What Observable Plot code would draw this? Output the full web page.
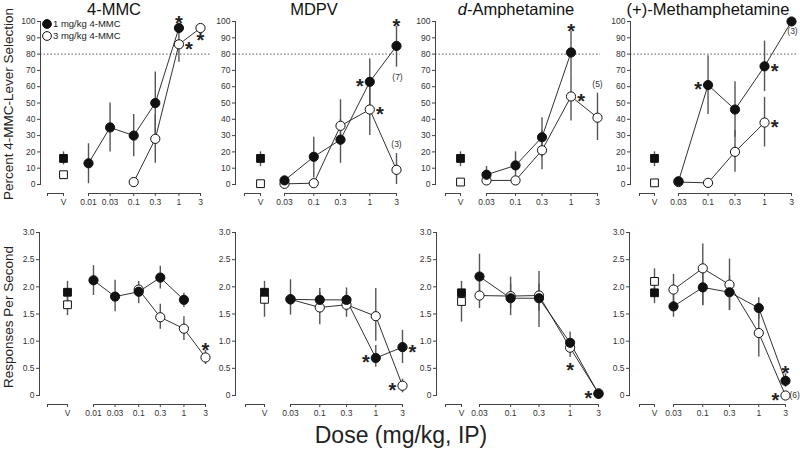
<!DOCTYPE html>
<html><head><meta charset="utf-8">
<script src="https://cdn.jsdelivr.net/npm/d3@7"></script>
<script src="https://cdn.jsdelivr.net/npm/@observablehq/plot@0.6"></script>
<style>
body{margin:0;background:#fff;font-family:"Liberation Sans",Arial,sans-serif;color:#222}
#wrap{position:relative;width:800px;height:451px;overflow:hidden;background:#fff}
#wrap svg.panel{position:absolute;left:0;top:0}
.t{position:absolute;white-space:nowrap;line-height:1}
</style></head><body><div id="wrap"></div>
<script>
// ---------- data ----------
const drugs = ["4-MMC", "MDPV", "d-Amphetamine", "(+)-Methamphetamine"];
const seriesLabels = ["1 mg/kg 4-MMC", "3 mg/kg 4-MMC"];
const dosesMMC = [0.01, 0.03, 0.1, 0.3, 1, 3];
const dosesOther = [0.03, 0.1, 0.3, 1, 3];
const doseLabelsMMC = ["0.01", "0.03", "0.1", "0.3", "1", "3"];
const doseLabelsOther = ["0.03", "0.1", "0.3", "1", "3"];
const vehicleLabel = "V";
const pctTicks = [0, 10, 20, 30, 40, 50, 60, 70, 80, 90, 100];
const rateTicks = [0, 0.5, 1, 1.5, 2, 2.5, 3];
const rateTickLabels = ["0", "0.5", "1.0", "1.5", "2.0", "2.5", "3.0"];
const criterion = 80;
const yTitlePct = "Percent 4-MMC-Lever Selection";
const yTitleRate = "Responses Per Second";
const xTitle = "Dose (mg/kg, IP)";

// [mean, lower, upper] per dose (null = not tested)
const pctMMC1 = [[13, 0.5, 25], [35, 20, 50], [30, 17, 43], [50, 31, 69], [96], null];
const pctMMC3 = [null, null, [1.5], [28, 13, 43], [86, 75, 96], [96]];
const pctMDPV1 = [[2.5], [17, 4, 29], [27.5, 13, 40], [63, 47, 77], [85, 72, 97]];
const pctMDPV3 = [[0.4], [0.8], [36, 24, 52], [46, 30, 62], [9, 0, 19]];
const pctAMPH1 = [[6, 2, 11], [11.7, 5, 20], [29, 17, 41], [81, 68, 94], null];
const pctAMPH3 = [[2.5], [2.5], [21, 9, 33], [54, 39, 68], [41, 27, 56]];
const pctMETH1 = [[2], [61, 43, 79], [46, 29, 63], [72.5, 57, 88], [100]];
const pctMETH3 = [[1.5], [1], [20, 7.5, 33], [38, 23, 53.5], null];
const pctVeh1 = [[16, 12, 20], [16, 11, 20], [16, 11, 20], [16, 11, 20]];
const pctVeh3 = [[6, 4, 8], [0.5], [1.5], [1]];

const rateMMC1 = [[2.12, 1.84, 2.39], [1.82, 1.54, 2.12], [1.91, 1.69, 2.10], [2.17, 1.96, 2.38], [1.76, 1.62, 1.88], null];
const rateMMC3 = [null, null, [1.95], [1.44, 1.22, 1.68], [1.23, 1.01, 1.45], [0.70, 0.57, 0.83]];
const rateMDPV1 = [[1.77, 1.48, 2.13], [1.76, 1.55, 1.97], [1.76, 1.55, 1.98], [0.69, 0.52, 0.92], [0.89, 0.59, 1.20]];
const rateMDPV3 = [[1.77], [1.62, 1.30, 1.90], [1.67, 1.44, 1.90], [1.46, 1.00, 1.97], [0.18, 0.05, 0.30]];
const rateAMPH1 = [[2.19, 1.90, 2.60], [1.79, 1.47, 2.18], [1.79, 1.55, 2.05], [0.97, 0.80, 1.17], [0.03]];
const rateAMPH3 = [[1.84, 1.60, 2.05], [1.83, 1.60, 2.05], [1.84, 1.25, 2.28], [0.88, 0.70, 1.00], [0.04]];
const rateMETH1 = [[1.64, 1.44, 1.85], [1.99, 1.65, 2.30], [1.90, 1.56, 2.20], [1.61, 1.40, 1.80], [0.27, 0.15, 0.40]];
const rateMETH3 = [[1.95, 1.70, 2.23], [2.34, 1.66, 2.79], [2.04, 1.57, 2.51], [1.15, 0.71, 1.60], [0.0]];
const rateVeh1 = [[1.90, 1.70, 2.10], [1.90, 1.70, 2.10], [1.89, 1.70, 2.10], [1.89, 1.69, 2.00]];
const rateVeh3 = [[1.67, 1.47, 1.87], [1.77, 1.44, 1.95], [1.73, 1.35, 1.90], [2.10, 1.95, 2.33]];

// significance markers: [panel, series, dose, side]
const sigPct = [[0,0,1,"above"],[0,1,1,"right"],[0,1,3,"below"],
  [1,0,1,"left"],[1,0,3,"above"],[1,1,1,"right"],
  [2,0,1,"above"],[2,1,1,"right"],
  [3,0,0.1,"left"],[3,0,1,"right"],[3,1,1,"right"]];
const sigRate = [[0,1,3,"above"],
  [1,0,1,"left"],[1,0,3,"right"],[1,1,3,"left"],
  [2,1,1,"below"],[2,1,3,"left"],
  [3,0,3,"above"],[3,1,3,"left"]];
// n labels: [panel, series, dose, text, side]
const nPct = [[1,0,3,"(7)","below"],[1,1,3,"(3)","above"],[2,1,3,"(5)","above"],[3,0,3,"(3)","below"]];
const nRate = [[3,1,3,"(6)","right"]];

// ---------- layout (pixels) ----------
const rowPos = {pct: {top: 21, bottom: 184, gap: 9}, rate: {top: 232, bottom: 395, gap: 9}};
const colPos = {
  pct: [{axis:40,right:210,x0:88,x1:200,veh:63,br:47},
        {axis:235,right:400,x0:284,x1:396,veh:260,br:244},
        {axis:435,right:600,x0:486,x1:597,veh:460,br:445},
        {axis:630,right:796,x0:678,x1:791,veh:654,br:639}],
  rate:[{axis:39,right:210,x0:93,x1:205,veh:67,br:47},
        {axis:235,right:402,x0:290,x1:402,veh:264,br:245},
        {axis:436,right:600,x0:479,x1:598,veh:461,br:445},
        {axis:629,right:796,x0:673,x1:785,veh:654,br:639}]
};
const W = 800, H = 451;
const seriesData = {
  pct: [[pctMMC1, pctMMC3], [pctMDPV1, pctMDPV3], [pctAMPH1, pctAMPH3], [pctMETH1, pctMETH3]],
  rate: [[rateMMC1, rateMMC3], [rateMDPV1, rateMDPV3], [rateAMPH1, rateAMPH3], [rateMETH1, rateMETH3]]
};
const vehData = {pct: [pctVeh1, pctVeh3], rate: [rateVeh1, rateVeh3]};
const sigData = {pct: sigPct, rate: sigRate};
const nData = {pct: nPct, rate: nRate};

const wrap = document.getElementById("wrap");
const FONT = '"Liberation Sans", Arial, sans-serif';

function panel(row, i) {
  const P = colPos[row][i], R = rowPos[row];
  const doses = i === 0 ? dosesMMC : dosesOther;
  const labels = i === 0 ? doseLabelsMMC : doseLabelsOther;
  const dmin = doses[0], dmax = doses[doses.length - 1];
  const perDec = (P.x1 - P.x0) / Math.log10(dmax / dmin);
  const doseAt = px => dmin * Math.pow(10, (px - P.x0) / perDec);
  const vehDose = doseAt(P.veh), brDose = doseAt(P.br);
  const pts = [];
  seriesData[row][i].forEach((arr, s) => arr.forEach((v, k) => {
    if (v) pts.push({s, dose: doses[k], mean: v[0], lo: v[1] ?? null, hi: v[2] ?? null});
  }));
  const vpts = vehData[row].map((arr, s) => {
    const v = arr[i];
    return {s, dose: vehDose, mean: v[0], lo: v[1] ?? null, hi: v[2] ?? null};
  });
  const all = pts.concat(vpts);
  const errs = all.filter(d => d.lo != null || d.hi != null);
  const find = (s, d) => pts.find(p => p.s === s && Math.abs(p.dose - d) < 1e-9);
  const sigs = sigData[row].filter(a => a[0] === i).map(a => ({...find(a[1], a[2]), side: a[3]}));
  const ns = nData[row].filter(a => a[0] === i).map(a => ({...find(a[1], a[2]), label: a[3], side: a[4]}));
  const yOf = d => d.side === "above" ? (d.hi ?? d.mean) : d.side === "below" ? (d.lo ?? d.mean) : d.mean;
  const comp = 5;
  const starGroups = [
    {f: d => d.side === "above" && d.hi != null, dx: 0, dy: -5 + comp},
    {f: d => d.side === "above" && d.hi == null, dx: 0, dy: -9 + comp},
    {f: d => d.side === "below", dx: 0, dy: 8 + comp},
    {f: d => d.side === "left", dx: -10, dy: comp},
    {f: d => d.side === "right", dx: 10, dy: comp}
  ];
  const nOpts = {above: {dx: 0, dy: -9, textAnchor: "middle"}, below: {dx: 1, dy: 10, textAnchor: "middle"}, right: {dx: 4, dy: 0, textAnchor: "start"}};
  const labelOf = new Map(doses.map((d, k) => [d, labels[k]]));
  const marks = [
    Plot.axisY({ticks: row === "pct" ? pctTicks : rateTicks,
      tickFormat: row === "pct" ? (d => String(d)) : (d => rateTickLabels[rateTicks.indexOf(d)]),
      tickSize: 3, tickPadding: 2, fontSize: 8.5, label: null, stroke: "#444"}),
    Plot.frame({anchor: "left", stroke: "#444"}),
    row === "pct" ? Plot.ruleY([criterion], {stroke: "#333", strokeWidth: 0.8, strokeDasharray: "1.5,2"}) : null,
    Plot.ruleY([0], {x1: dmin, x2: dmax, dy: R.gap, stroke: "#444"}),
    Plot.axisX({ticks: doses, tickFormat: d => labelOf.get(d), tickSize: 3, tickPadding: 2, fontSize: 8.5, label: null, dy: R.gap, stroke: "#444"}),
    Plot.ruleY([0], {x1: brDose, x2: vehDose, dy: R.gap, stroke: "#444"}),
    Plot.axisX({ticks: [brDose, vehDose], tickFormat: d => d === vehDose ? vehicleLabel : "", tickSize: 3, tickPadding: 2, fontSize: 8.5, label: null, dy: R.gap, stroke: "#444"}),
    Plot.line(pts, {x: "dose", y: "mean", z: "s", stroke: "#1a1a1a", strokeWidth: 0.9}),
    Plot.ruleX(errs, {x: "dose", y1: d => d.lo ?? d.mean, y2: d => d.hi ?? d.mean, stroke: "#555", strokeWidth: 1.4}),
    Plot.dot(pts.filter(d => d.s === 1), {x: "dose", y: "mean", r: 4.6, fill: "white", stroke: "#111", strokeWidth: 1}),
    Plot.dot(pts.filter(d => d.s === 0), {x: "dose", y: "mean", r: 4.6, fill: "#111", stroke: "#111", strokeWidth: 1}),
    Plot.dot(vpts.filter(d => d.s === 1), {x: "dose", y: "mean", symbol: "square", r: 4.4, fill: "white", stroke: "#111", strokeWidth: 1}),
    Plot.dot(vpts.filter(d => d.s === 0), {x: "dose", y: "mean", symbol: "square", r: 4.4, fill: "#111", stroke: "#111", strokeWidth: 1})
  ];
  for (const g of starGroups) {
    const dat = sigs.filter(g.f);
    if (dat.length) marks.push(Plot.text(dat, {x: "dose", y: yOf, text: () => "*", fontSize: 20, fontWeight: "bold", fill: "#222", dx: g.dx, dy: g.dy}));
  }
  for (const side of ["above", "below", "right"]) {
    const nd = ns.filter(d => d.side === side);
    if (nd.length) marks.push(Plot.text(nd, {x: "dose", y: yOf, text: "label", fontSize: 8.5, fill: "#333", ...nOpts[side]}));
  }
  const svg = Plot.plot({
    width: W, height: H,
    marginLeft: P.axis, marginRight: W - P.right, marginTop: R.top, marginBottom: H - R.bottom,
    style: {background: "none", overflow: "visible", fontFamily: FONT, color: "#333"},
    x: {type: "log", domain: [dmin, dmax], range: [P.x0, P.x1]},
    y: {domain: row === "pct" ? [0, 100] : [0, 3]},
    marks
  });
  svg.classList.add("panel");
  wrap.appendChild(svg);
}

for (const row of ["pct", "rate"]) for (let i = 0; i < 4; i++) panel(row, i);

// ---------- text ----------
function addText(html, css) {
  const d = document.createElement("div");
  d.className = "t";
  d.innerHTML = html;
  Object.assign(d.style, css);
  wrap.appendChild(d);
  return d;
}
const titleX = [114, 314, 516, 708];
drugs.forEach((t, i) => {
  const html = t.startsWith("d-") ? "<i>d</i>" + t.slice(1) : t;
  addText(html, {left: titleX[i] + "px", top: "0px", fontSize: "16.5px", lineHeight: "1.15", transform: "translateX(-50%)", color: "#111"});
});
addText(yTitlePct, {left: "9px", top: "104px", fontSize: "13.5px", transform: "translate(-50%,-50%) rotate(-90deg)", color: "#222"});
addText(yTitleRate, {left: "9px", top: "317px", fontSize: "13.5px", transform: "translate(-50%,-50%) rotate(-90deg)", color: "#222"});
addText(xTitle, {left: "401px", top: "424px", fontSize: "23px", transform: "translateX(-50%)", color: "#222"});

// legend
const svgNS = "http://www.w3.org/2000/svg";
const lg = document.createElementNS(svgNS, "svg");
lg.setAttribute("width", "20"); lg.setAttribute("height", "30");
lg.style.position = "absolute"; lg.style.left = "37px"; lg.style.top = "15px";
[[24, "#111"], [36, "white"]].forEach(([cy, fill]) => {
  const c = document.createElementNS(svgNS, "circle");
  c.setAttribute("cx", 10); c.setAttribute("cy", cy - 15); c.setAttribute("r", 4.4);
  c.setAttribute("fill", fill); c.setAttribute("stroke", "#111");
  lg.appendChild(c);
});
wrap.appendChild(lg);
seriesLabels.forEach((t, k) => addText(t, {left: "53px", top: (19 + k * 12) + "px", fontSize: "9.5px", color: "#222"}));
</script></body></html>
